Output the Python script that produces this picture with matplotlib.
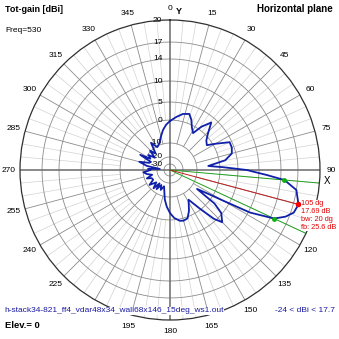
import numpy as np
import matplotlib
matplotlib.use("Agg")
import matplotlib.pyplot as plt

plt.rcParams["font.family"] = ["Liberation Sans", "DejaVu Sans"]

# azimuth pattern, degrees clockwise from Y, gain in dBi
angle_deg = [0, 7, 13, 19, 23, 27, 32, 36, 41, 46, 51, 56, 60, 65, 70, 75, 80, 84, 87,
             90, 93, 95, 99, 105, 109, 112, 115, 118, 120, 122, 125, 127, 130, 135, 138,
             142, 148, 155, 160, 165, 169, 175, 180, 185, 190, 195, 200, 205, 210, 215,
             218, 222, 228, 234, 240, 246, 250, 255, 260, 265, 270, 273, 276, 280, 285,
             289, 293, 297, 300, 305, 309, 314, 319, 325, 331, 338, 344, 350, 355]
gain_dbi = [-0.4, 1.0, 2.1, 2.6, 1.3, -0.8, -2.8, 1.0, 3.6, 0.8, -1.4, -2.4, 0.7, 4.4,
            4.4, 3.9, 1.7, -5.0, 0.9, 7.1, 11.5, 14.69, 17.0, 17.69, 17.4, 16.4, 14.69,
            10.3, 3.1, -2.2, -7.4, 1.6, 4.7, 6.4, 4.4, 0.0, -6.5, -2.2, 0.4, 0.7, 0.5,
            -0.8, -3.0, -5.7, -8.7, -13.6, -16.9, -13.6, -16.9, -12.6, -17.2, -11.7,
            -16.1, -11.2, -15.4, -15.0, -11.7, -16.1, -12.6, -10.2, -15.4, -13.6, -24.0,
            -12.6, -7.9, -13.6, -14.5, -7.2, -13.1, -10.6, -15.4, -9.7, -13.6, -7.4,
            -10.6, -9.3, -7.0, -4.1, -2.0]

# dB rings of the plot and their relative radius (outer ring = 1)
scale_db = [-40, -30, -20, -10, 0, 5, 10, 14, 17, 20]
scale_r = [0.0, 0.04, 0.087, 0.18, 0.333, 0.453, 0.593, 0.74, 0.853, 1.0]
ring_levels = [17, 14, 10, 5, 0, -10, -20, -30]
label_levels = [20, 17, 14, 10, 5, 0, -10, -20, -30]
ring_labels = ["20", "17", "14", "10", "5", "0", "-10", "-20", "-30"]

peak_angle = 105
peak_gain = 17.69
bw_angles = [95, 115]
bw_gain = 14.69
fb_ratio = 25.6

R_MAX = 20.0
R_MIN = -40.0


def db_to_r(db):
    return np.interp(np.asarray(db, dtype=float), scale_db, scale_r)


def r_to_db(r):
    return np.interp(np.asarray(r, dtype=float), scale_r, scale_db)


fig = plt.figure(figsize=(3.39, 3.39), dpi=100)
ax = fig.add_axes([20 / 339, 19 / 339, 300 / 339, 300 / 339], projection="polar")
ax.set_theta_zero_location("N")
ax.set_theta_direction(-1)
ax.set_rscale("function", functions=(db_to_r, r_to_db))
ax.set_rlim(R_MIN, R_MAX)
ax.grid(False)
ax.set_yticks([])
ax.spines["polar"].set_color("#303030")
ax.spines["polar"].set_linewidth(0.9)

ticks = np.arange(0, 360, 15)
ax.set_xticks(np.deg2rad(ticks))
ax.set_xticklabels([str(t) for t in ticks], fontsize=6)
ax.tick_params(axis="x", length=0, pad=1.5)

# spokes: light every 5 deg, darker every 15 deg
for a in range(0, 360, 5):
    if a % 90 == 0:
        continue
    th = np.deg2rad(a)
    if a % 15 == 0:
        ax.plot([th, th], [-10, R_MAX], color="#8c8c8c", lw=0.6, zorder=1)
    else:
        ax.plot([th, th], [0, R_MAX], color="#d2d2d2", lw=0.5, zorder=0.9)

full = np.linspace(0, 2 * np.pi, 361)
for lv in ring_levels:
    ax.plot(full, np.full_like(full, lv), color="#8c8c8c", lw=0.6, zorder=1)

# X / Y axes through the centre
for a in (0, 90, 180, 270):
    th = np.deg2rad(a)
    ax.plot([th, th], [R_MIN, R_MAX], color="#6a6a6a", lw=1.1, zorder=1.5)

for lv, lab in zip(label_levels, ring_labels):
    ax.annotate(lab, xy=(0, lv), xytext=(-5.5, 0), textcoords="offset points",
                ha="right", va="center", fontsize=6, zorder=2)

# beamwidth and peak markers
for a in bw_angles:
    th = np.deg2rad(a)
    ax.plot([th, th], [R_MIN, R_MAX], color="#20a020", lw=0.7, zorder=2)
pk = np.deg2rad(peak_angle)
ax.plot([pk, pk], [R_MIN, peak_gain], color="#c02020", lw=0.7, zorder=2)

theta = np.deg2rad(angle_deg + angle_deg[:1])
gain = gain_dbi + gain_dbi[:1]
ax.plot(theta, gain, color="#1020a8", lw=1.3, zorder=3)

ax.plot(np.deg2rad(bw_angles), [bw_gain, bw_gain], "o", color="#10b010", ms=2.5, zorder=4)
ax.plot([pk], [peak_gain], "o", color="#ff0000", ms=3, zorder=4)

ax.annotate(f"{peak_angle} dg\n{peak_gain} dB\nbw: {bw_angles[1] - bw_angles[0]} dg\nfb: {fb_ratio} dB",
            xy=(pk, peak_gain), xytext=(2, 3), textcoords="offset points",
            ha="left", va="top", fontsize=5.3, color="#e00000", linespacing=1.15, zorder=5,
            bbox=dict(boxstyle="square,pad=0.05", fc="white", ec="none"))

ax.annotate("Y", xy=(0, R_MAX), xytext=(4.5, 6), textcoords="offset points",
            ha="left", va="center", fontsize=6.5, weight="bold", annotation_clip=False)
ax.annotate("X", xy=(np.pi / 2, R_MAX), xytext=(5, -8), textcoords="offset points",
            ha="center", va="center", fontsize=7, annotation_clip=False)

fig.text(5 / 339, 1 - 9 / 339, "Tot-gain [dBi]", fontsize=6.5, weight="bold", va="center")
fig.text(5 / 339, 1 - 31 / 339, "Freq=530", fontsize=6, va="center")
fig.text(333 / 339, 1 - 9 / 339, "Horizontal plane", fontsize=7, weight="bold",
         va="center", ha="right")
fig.text(4 / 339, 1 - 311 / 339, "h-stack34-821_ff4_vdar48x34_wall68x146_15deg_ws1.out",
         fontsize=6.0, color="#1a1aa0", va="center",
         bbox=dict(boxstyle="square,pad=0.05", fc="white", ec="none"))
fig.text(335 / 339, 1 - 311 / 339, "-24 < dBi < 17.7", fontsize=6.0, color="#1a1aa0",
         va="center", ha="right",
         bbox=dict(boxstyle="square,pad=0.05", fc="white", ec="none"))
fig.text(5 / 339, 1 - 325 / 339, "Elev.= 0", fontsize=6.8, weight="bold", va="center")

fig.savefig("out.png", dpi=100)
